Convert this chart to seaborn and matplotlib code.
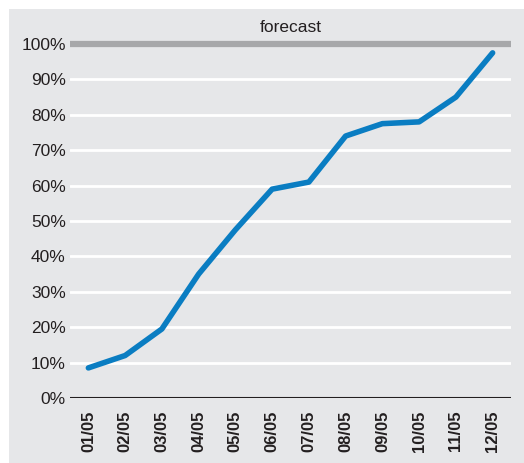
import matplotlib
matplotlib.use("Agg")
import matplotlib.pyplot as plt
import matplotlib.patches as mpatches
import seaborn as sns
import pandas as pd

months = ["01/05", "02/05", "03/05", "04/05", "05/05", "06/05",
          "07/05", "08/05", "09/05", "10/05", "11/05", "12/05"]
forecast = [8.5, 12, 19.5, 35, 47.5, 59, 61, 74, 77.5, 78, 85, 97.5]
y_ticks = [0, 10, 20, 30, 40, 50, 60, 70, 80, 90, 100]

df = pd.DataFrame({"Month": months, "Forecast": forecast})

sns.set_style("white")
plt.rcParams["font.family"] = ["Liberation Sans", "DejaVu Sans"]

bg = "#e6e7e9"
W, H = 524, 463
fig = plt.figure(figsize=(W / 100, H / 100), dpi=100, facecolor="white")
fig.add_artist(mpatches.Rectangle((9 / W, 0), 1 - 9 / W, 1 - 9 / H,
                                  transform=fig.transFigure,
                                  facecolor=bg, edgecolor="none", zorder=-10))
ax = fig.add_axes([70 / W, 1 - 398 / H, (511 - 70) / W, (398 - 40) / H])
ax.set_facecolor(bg)

for t in y_ticks[1:-1]:
    ax.axhline(t, color="white", lw=2, zorder=1)
ax.axhline(100, color="#a7a8aa", lw=4.5, zorder=2)
ax.axhline(0, color="#231f20", lw=1.5, zorder=2)

sns.lineplot(data=df, x="Month", y="Forecast", ax=ax, color="#0a7dc2",
             lw=4, sort=False, zorder=3)

ax.set_xlim(-0.5, len(months) - 0.5)
ax.set_ylim(0, 100 * 358 / 354)
ax.set_yticks(y_ticks)
ax.set_yticklabels([f"{t}%" for t in y_ticks], fontsize=12.5, color="#231f20")
ax.set_xticks(range(len(months)))
ax.set_xticklabels(months, rotation=90, fontsize=12, fontweight="bold",
                   color="#231f20")
ax.tick_params(length=0, pad=3)
ax.tick_params(axis="x", pad=9)
ax.set_xlabel("")
ax.set_ylabel("")
for s in ax.spines.values():
    s.set_visible(False)

fig.text((70 + 511) / 2 / W, 1 - 27 / H, "forecast", ha="center", va="center",
         fontsize=12.5, color="#231f20")

fig.savefig("out.png", dpi=100, facecolor="white")
